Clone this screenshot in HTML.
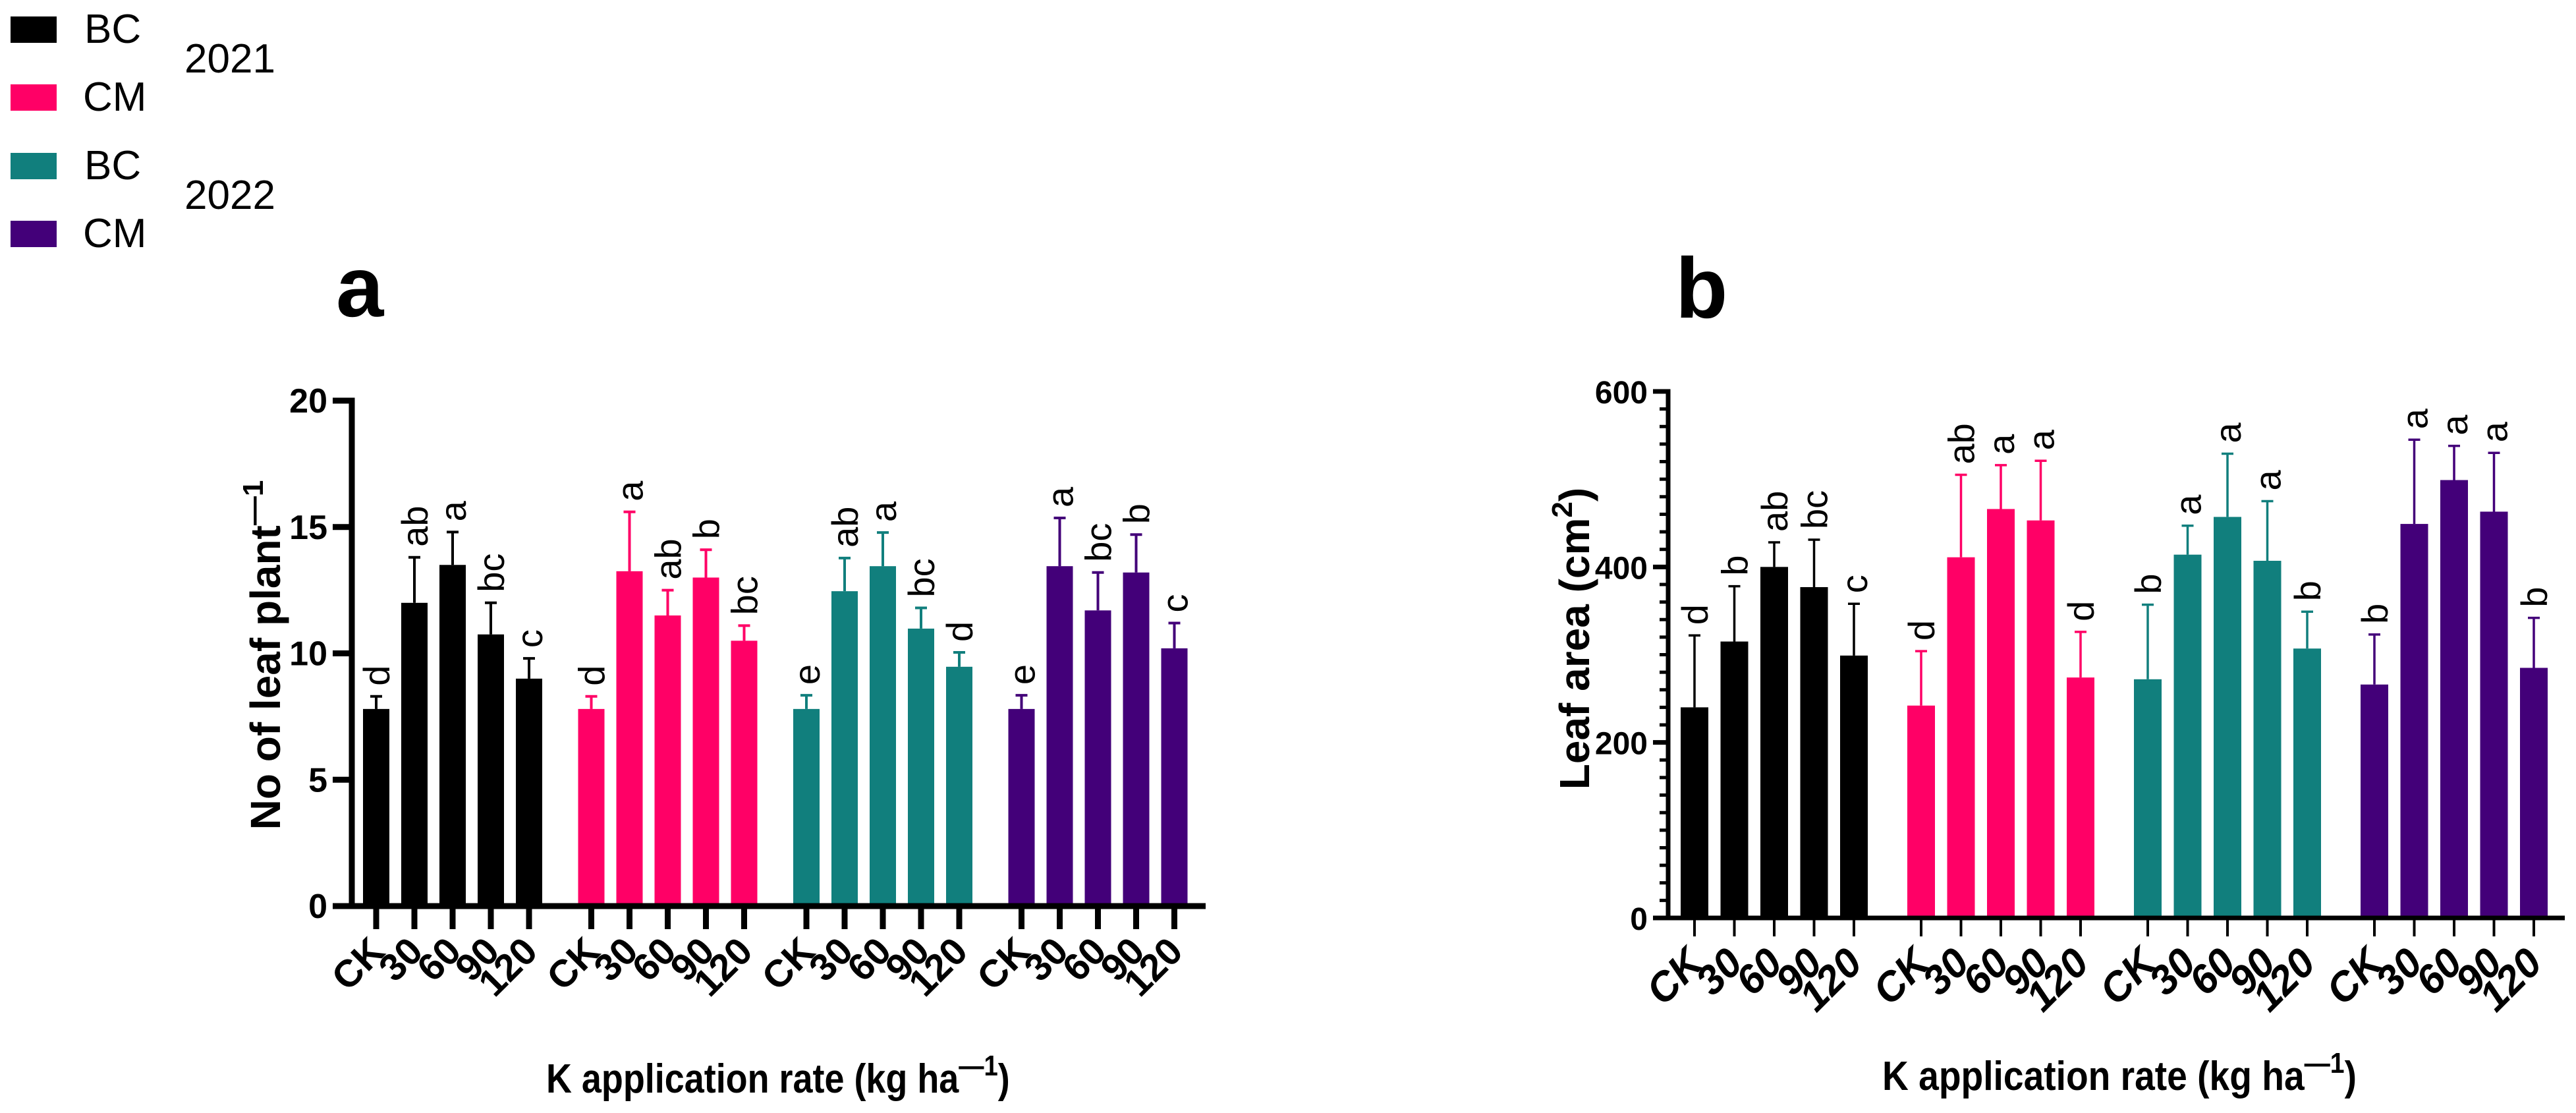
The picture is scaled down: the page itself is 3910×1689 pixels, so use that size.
<!DOCTYPE html>
<html><head><meta charset="utf-8"><style>
html,body{margin:0;padding:0;background:#fff;}
svg{display:block;font-family:"Liberation Sans",Arial,sans-serif;}
</style></head><body>
<svg id="fig" width="3910" height="1689" viewBox="0 0 3910 1689" xmlns="http://www.w3.org/2000/svg">
<g font-size="62">
<rect x="16" y="25" width="70" height="40" fill="#000"/>
<text x="128" y="65">BC</text>
<rect x="16" y="128" width="70" height="40" fill="#FF0066"/>
<text x="126" y="168">CM</text>
<rect x="16" y="232" width="70" height="40" fill="#117F7D"/>
<text x="128" y="272">BC</text>
<rect x="16" y="335" width="70" height="40" fill="#430079"/>
<text x="126" y="375">CM</text>
<text x="280" y="110">2021</text>
<text x="280" y="317">2022</text>
</g>
<text x="510" y="480" font-size="130" font-weight="bold">a</text>
<text x="2543" y="482" font-size="130" font-weight="bold">b</text>
<text transform="translate(425,994) rotate(-90)" text-anchor="middle" font-size="64" font-weight="bold">No of leaf plant<tspan font-size="44" dy="-26">—1</tspan></text>
<text transform="translate(2412,969) rotate(-90)" text-anchor="middle" font-size="64" font-weight="bold">Leaf area (cm<tspan font-size="44" dy="-26">2</tspan><tspan dy="26">)</tspan></text>
<text transform="translate(829,1658) scale(0.87,1)" x="0" y="0" font-size="62" font-weight="bold">K application rate (kg ha<tspan font-size="44" dy="-26">—1</tspan><tspan dy="26">)</tspan></text>
<text transform="translate(2857,1654) scale(0.89,1)" x="0" y="0" font-size="62" font-weight="bold">K application rate (kg ha<tspan font-size="44" dy="-26">—1</tspan><tspan dy="26">)</tspan></text>
</svg>
<script>
const categories = ["CK","30","60","90","120"];
const groups = ["BC 2021","CM 2021","BC 2022","CM 2022"];
const colors = ["#000000","#FF0066","#117F7D","#430079"];
// Panel a: No of leaf plant-1
const aMeans = [[7.8,12,13.5,10.75,9],[7.8,13.25,11.5,13,10.5],[7.8,12.46,13.45,10.98,9.47],[7.8,13.45,11.7,13.2,10.2]];
const aErrTop = [[8.3,13.8,14.8,12,9.8],[8.3,15.6,12.5,14.1,11.1],[8.34,13.77,14.78,11.8,10.04],[8.34,15.36,13.2,14.7,11.2]];
const aLetters = [["d","ab","a","bc","c"],["d","a","ab","b","bc"],["e","ab","a","bc","d"],["e","a","bc","b","c"]];
const aTicks = [0,5,10,15,20];
// Panel b: Leaf area
const bMeans = [[240,315,400,377,299],[242,411,466,453,274],[272,414,457,407,307],[266,449,499,463,285]];
const bErrTop = [[322,378,428,431,358],[304,505,516,521,326],[357,447,529,475,349],[323,545,538,530,342]];
const bLetters = [["d","b","ab","bc","c"],["d","ab","a","a","d"],["b","a","a","a","b"],["b","a","a","a","b"]];
const bTicks = [0,200,400,600];

const NS = "http://www.w3.org/2000/svg";
const svg = document.getElementById("fig");
function mk(tag, attrs, parent){
  const e = document.createElementNS(NS, tag);
  for (const k in attrs) e.setAttribute(k, attrs[k]);
  (parent||svg).appendChild(e);
  return e;
}
function drawPanel(p){
  const g = mk("g", {});
  
  
  const y = v => p.y0 - (v - p.min) / (p.max - p.min) * (p.y0 - p.yTop);
  const x = (gi, ci) => p.x0 + gi * p.gStep + ci * p.cStep;
  if (p.minor) {
    for (let v = p.min; v <= p.max + 1e-9; v += p.minor) {
      const t = mk("line", {x1:p.axX - p.minorLen, x2:p.axX, y1:y(v), y2:y(v), stroke:"#000", "stroke-width":p.tickW}, g);
      
      
    }
  }
  p.ticks.forEach(v => {
    const t = mk("line", {x1:p.axX - p.majorLen, x2:p.axX, y1:y(v), y2:y(v), stroke:"#000", "stroke-width":p.axW}, g);
    
    
    const l = mk("text", {x:p.axX - p.majorLen - 8, y:y(v) + 18, "text-anchor":"end", "font-size":p.tickFont, "font-weight":"bold"}, g);
    l.textContent = v;
    
    
  });
  p.means.forEach((series, gi) => {
    series.forEach((v, ci) => {
      const cx = x(gi, ci);
      const b = mk("rect", {x:cx - p.barW/2, y:y(v), width:p.barW, height:p.y0 - y(v), fill:colors[gi]}, g);
      
      
      const et = y(p.err[gi][ci]);
      const e = mk("path", {d:`M${cx},${y(v)}V${et}M${cx - p.capW/2},${et}H${cx + p.capW/2}`, stroke:colors[gi], "stroke-width":p.errW, fill:"none"}, g);
      
      
      const s = mk("text", {transform:`translate(${cx + 20},${et - 16}) rotate(-90)`, "font-size":56}, g);
      s.textContent = p.letters[gi][ci];
      
      
      const t = mk("line", {x1:cx, x2:cx, y1:p.y0, y2:p.y0 + p.xTickLen, stroke:"#000", "stroke-width":p.xTickW}, g);
      
      
      const l = mk("text", {transform:`translate(${cx + 16},${p.y0 + p.labOff}) rotate(-45)`, "text-anchor":"end", "font-size":p.catFont, "font-weight":"bold", "font-style":p.catStyle}, g);
      l.textContent = categories[ci];
      
      
    });
  });
  const ya = mk("line", {x1:p.axX, x2:p.axX, y1:p.yTop - p.axW/2, y2:p.y0 + p.axW/2, stroke:"#000", "stroke-width":p.axW}, g);
  
  
  const xa = mk("line", {x1:p.axX - p.majorLen, x2:p.xEnd, y1:p.y0, y2:p.y0, stroke:"#000", "stroke-width":p.axW}, g);
  
  
}
drawPanel({id:"a", means:aMeans, err:aErrTop, letters:aLetters, ticks:aTicks, min:0, max:20,
  y0:1375, yTop:608, axX:534, axW:9, majorLen:29, minor:0, xEnd:1830,
  x0:571, gStep:326.5, cStep:58, barW:40, capW:18, errW:4, xTickLen:35, xTickW:9, tickW:4,
  tickFont:52, catFont:58, catStyle:"normal", labOff:72});
drawPanel({id:"b", means:bMeans, err:bErrTop, letters:bLetters, ticks:bTicks, min:0, max:600,
  y0:1393, yTop:594, axX:2532, axW:7, majorLen:23, minor:20, minorLen:13, xEnd:3893,
  x0:2572, gStep:344, cStep:60.5, barW:42, capW:18, errW:3.5, xTickLen:28, xTickW:4, tickW:5,
  tickFont:48, catFont:62, catStyle:"italic", labOff:72});
</script>
</body></html>
